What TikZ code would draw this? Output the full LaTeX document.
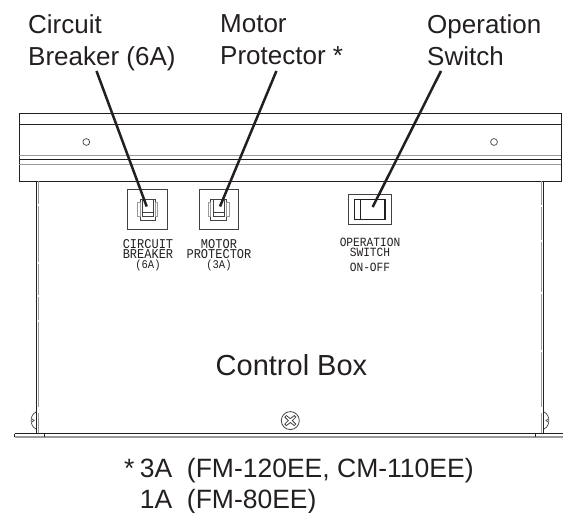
\documentclass[tikz,border=0pt]{standalone}
\usepackage{fontspec}
\setmainfont{Liberation Sans}
\newfontfamily\plate{Liberation Mono}
\definecolor{ink}{HTML}{231F20}
\tikzset{
  x=1pt,y=-1pt,
  callout/.style={font=\fontsize{26}{32}\selectfont,text=ink,align=left,anchor=north west,inner sep=0pt},
  platetext/.style={font=\plate\fontsize{12}{9}\selectfont,text=ink,align=center,inner sep=0pt,anchor=north,yscale=1.12,transform shape},
  body/.style={draw=ink,line width=0.9pt},
  part/.style={draw=ink!85,line width=0.7pt},
  shade/.style={draw=black!40,line width=1.2pt},
  leader/.style={draw=ink,line width=2.5pt},
}
\begin{document}
\begin{tikzpicture}
\useasboundingbox (0,0) rectangle (563,513);
% top rail
\draw[body] (19,113.5) rectangle (561,181);
\draw[body] (19,124.5) -- (561,124.5);
\draw[shade,line width=1pt] (19,156) -- (561,156);
\draw[body] (19,159.5) -- (561,159.5);
\draw[shade,line width=1pt] (19,165) -- (561,165);
\draw[part] (86.3,142) circle (3.4);
\draw[part] (494,142) circle (3.4);
% side walls
\draw[body,line width=0.8pt] (36.7,181) -- (36.7,433);
\draw[shade] (38.2,181) -- (38.2,204) (38.2,206) -- (38.2,262) (38.2,264) -- (38.2,295) (38.2,297) -- (38.2,320) (38.2,322) -- (38.2,407) (38.2,413) -- (38.2,433);
\draw[body] (543,181) -- (543,433);
\draw[shade] (541.3,181) -- (541.3,205) (541.3,207) -- (541.3,240) (541.3,242) -- (541.3,292) (541.3,294) -- (541.3,350) (541.3,352) -- (541.3,407) (541.3,413) -- (541.3,433);
% side bulges
\draw[part] (36,412) .. controls (29.5,415) and (29.5,426) .. (36,429);
\draw[part] (32,419) -- (34,420.5) -- (32,422);
\draw[part] (544,412) .. controls (550.5,415) and (550.5,426) .. (544,429);
\draw[part] (548,419) -- (546,420.5) -- (548,422);
% bottom flange
\draw[body] (14.7,433.6) -- (563,433.6);
\draw[shade] (14.7,437) -- (563,437);
\draw[body,line width=0.7pt] (14.7,433.6) -- (14.7,437);
\draw[body,line width=0.7pt] (44.5,433.6) -- (44.5,437);
\draw[body,line width=0.7pt] (535.3,433.6) -- (535.3,437);
% screw
\draw[part,line width=0.8pt] (290.3,420.6) circle (9);
\draw[part,line width=0.8pt] (286.3,415.6) -- (290.3,418.6) -- (294.3,415.6) -- (295.8,417.1) -- (292.3,420.6) -- (295.8,424.1) -- (294.3,425.6) -- (290.3,422.6) -- (286.3,425.6) -- (284.8,424.1) -- (288.3,420.6) -- (284.8,417.1) -- cycle;
% circuit breaker
\draw[part,line width=0.9pt] (127.7,189.3) rectangle (167.3,229);
\draw[part,line width=0.9pt] (140,199.5) rectangle (155,220);
\draw[shade,line width=0.9pt] (137.8,202.7) rectangle (140,216);
\draw[shade,line width=0.9pt] (155,202.7) rectangle (157.7,216);
\draw[part] (142,199.5) -- (142,216) -- (153,216) -- (153,199.5);
\draw[part,line width=0.9pt] (142,212.3) -- (153,212.3);
% motor protector
\draw[part,line width=0.9pt] (199.3,189.3) rectangle (238.7,229);
\draw[part,line width=0.9pt] (210.7,199.5) rectangle (226.7,220);
\draw[shade,line width=0.9pt] (208.3,202.7) rectangle (210.7,216);
\draw[shade,line width=0.9pt] (226.7,202.7) rectangle (229.7,216);
\draw[part] (213,199.5) -- (213,216) -- (224.5,216) -- (224.5,199.5);
\draw[part,line width=0.9pt] (213,212.3) -- (224.5,212.3);
% operation switch
\draw[part,line width=0.9pt] (348.3,194) rectangle (391,224.5);
\draw[body,line width=1.1pt] (354.3,199.5) rectangle (385,219.3);
\draw[body] (360.7,199.5) -- (360.7,219.3);
% plate texts
\node[platetext] (t1) at (148,239.5) {CIRCUIT\\BREAKER\\{\fontsize{10.5}{9}\selectfont (6A)}};
\node[platetext] (t2) at (219,239.5) {MOTOR\\PROTECTOR\\{\fontsize{10.5}{9}\selectfont (3A)}};
\node[platetext,font=\plate\fontsize{11.2}{9.2}\selectfont] (t3) at (370,237.5) {OPERATION\\SWITCH\\[3.9pt]ON-OFF};
% callouts
\node[callout] (c1) at (28,14) {Circuit\\Breaker (6A)};
\node[callout] (c2) at (220,14) {Motor\\Protector *};
\node[callout] (c3) at (427,14) {Operation\\Switch};
\coordinate (c1s) at (96.5,71);
\coordinate (c2s) at (276.4,71);
\coordinate (c3s) at (441,71);
\coordinate (e1) at (146.7,206.5);
\coordinate (e2) at (220,206.5);
\coordinate (e3) at (372.7,207);
\draw[leader] (c1s) -- (e1);
\draw[leader] (c2s) -- (e2);
\draw[leader] (c3s) -- (e3);
% labels
\node[font=\fontsize{29}{30}\selectfont,text=ink,inner sep=0pt,anchor=base] (box) at (291.5,376) {Control Box};
\node[font=\fontsize{26.5}{31}\selectfont,text=ink,inner sep=0pt,anchor=north west,align=left] (note) at (124,457.7) {*\hspace{0.2em}3A\ \ (FM-120EE, CM-110EE)\\\phantom{*\hspace{0.2em}}1A\ \ (FM-80EE)};
\end{tikzpicture}
\end{document}
